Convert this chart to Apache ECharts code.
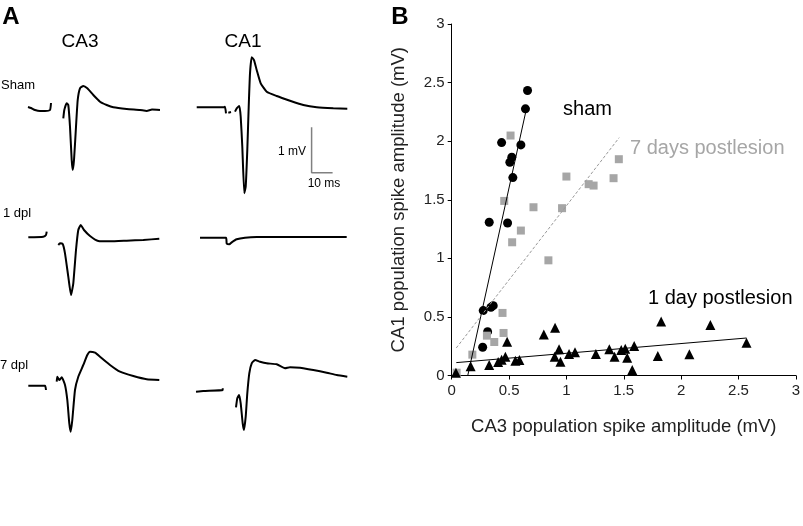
<!DOCTYPE html>
<html><head><meta charset="utf-8">
<script src="https://cdn.jsdelivr.net/npm/echarts@6/dist/echarts.min.js"></script>
<style>html,body{margin:0;padding:0;background:#fff}#c{width:803px;height:526px}</style>
</head><body><div id="c"></div>
<script>
// ---------- Panel B data: [CA3 amplitude (mV), CA1 amplitude (mV)] ----------
const shamPoints = [[0.661,2.432],[0.643,2.276],[0.435,1.988],[0.603,1.968],[0.524,1.863],[0.507,1.820],[0.533,1.689],
  [0.327,1.308],[0.487,1.302],[0.275,0.554],[0.362,0.596],[0.342,0.582],[0.313,0.374],[0.270,0.241]];
const dpl7Points = [[0.513,2.048],[1.457,1.846],[1.000,1.698],[1.194,1.633],[1.237,1.621],[1.411,1.684],[0.458,1.490],
  [0.713,1.436],[0.962,1.428],[0.603,1.237],[0.527,1.137],[0.843,0.983],[0.443,0.534],[0.452,0.363],[0.307,0.340],
  [0.371,0.286],[0.180,0.178],[0.043,0.024]];
const dpl1Points = [[0.037,0.024],[0.165,0.078],[0.327,0.090],[0.405,0.115],[0.435,0.135],[0.468,0.161],[0.555,0.126],
  [0.590,0.132],[0.483,0.289],[0.803,0.350],[0.901,0.408],[0.898,0.161],[0.936,0.224],[0.948,0.118],[1.023,0.184],
  [1.075,0.198],[1.257,0.184],[1.374,0.224],[1.420,0.161],[1.478,0.218],[1.513,0.229],[1.530,0.152],[1.591,0.252],
  [1.574,0.047],[1.797,0.167],[1.826,0.460],[2.072,0.181],[2.255,0.431],[2.570,0.280]];
const shamFit = [[0.14,0],[0.65,2.27]];
const dpl7Fit = [[0.04,0.235],[1.46,2.03]];
const dpl1Fit = [[0.04,0.11],[2.57,0.32]];
const axisTicks = [0, 0.5, 1, 1.5, 2, 2.5, 3];

// ---------- Panel A traces: [time (ms), voltage (mV)] ----------
const shamCA3Pre = [[0.95,0.066],[2.38,0.044],[4.29,0],[6.67,-0.022],[9.05,-0.022],[11.43,0],[11.9,0.154]];
const shamCA3 = [[17.76,-0.183],[18.24,0],[19.38,0.148],[20.14,0.110],[20.95,-0.368],[21.76,-1.101],[22.24,-1.322],
  [22.86,-1.101],[23.81,-0.368],[24.62,0.220],[25.71,0.478],[27.29,0.529],[29.19,0.478],[32.05,0.330],[35.24,0.183],
  [38.43,0.110],[41.57,0.059],[47.95,0.022],[54.29,0],[57.5,-0.02],[60,0.01],[63.81,0]];
const shamCA1Pre = [[1.29,0.015],[13.95,0.015],[14.76,0.029],[15.24,-0.117]];
const shamCA1Tick = [[16.33,-0.104],[17.62,-0.088]];
const shamCA1 = [[19.52,-0.081],[20.33,-0.007],[21.57,0.044],[22.24,-0.192],[23.0,-0.852],[23.95,-1.879],[24.62,-1.733],
  [25.38,-0.925],[26.05,0.029],[26.67,0.764],[27.48,1.117],[28.57,1.057],[29.86,0.837],[31.76,0.544],[34.62,0.359],
  [39.38,0.264],[45.71,0.161],[52.05,0.066],[58.43,0.015],[66.33,-0.007],[73.0,-0.015]];
const dpl1CA3Pre = [[1.10,-0.007],[8.24,0.007],[9.52,0.044],[9.86,0.117]];
const dpl1CA3 = [[15.38,-0.176],[16.19,-0.139],[17.48,-0.154],[18.57,-0.359],[20.14,-0.874],[21.43,-1.278],[22.52,-1.020],
  [23.81,-0.286],[24.90,0.154],[26.05,0.264],[27.62,0.154],[30.48,0.022],[34.43,-0.088],[40.0,-0.095],[47.95,-0.081],
  [55.86,-0.066],[63.48,-0.037]];
const dpl1CA1 = [[2.86,-0.015],[15.24,-0.015],[15.57,-0.143],[16.81,-0.161],[17.95,-0.117],[20.33,-0.051],[24.29,-0.015],
  [29.86,0],[45.71,0],[72.71,0]];
const dpl7CA3Pre = [[1.10,-0.015],[9.05,-0.015],[9.52,-0.110]];
const dpl7CA3 = [[14.62,0.073],[14.90,0.183],[15.86,0.110],[17.0,0.170],[18.57,0],[19.67,-0.330],[20.62,-0.844],
  [21.29,-1.029],[22.05,-0.771],[23.33,-0.110],[24.90,0.183],[27.29,0.441],[29.19,0.661],[30.48,0.733],[32.86,0.711],
  [35.24,0.623],[40.0,0.441],[44.76,0.293],[51.10,0.198],[57.48,0.126],[63.48,0.110]];
const dpl7CA1Pre = [[0.95,-0.148],[4.43,-0.132],[13.67,-0.110],[13.7,-0.073]];
const dpl7CA1 = [[20.0,-0.491],[20.62,-0.293],[21.43,-0.220],[22.24,-0.403],[23.19,-0.844],[23.81,-0.991],[24.62,-0.698],
  [25.38,-0.183],[26.33,0.258],[27.48,0.478],[29.05,0.551],[31.43,0.513],[34.62,0.478],[39.38,0.456],[43.33,0.368],
  [45.71,0.390],[50.48,0.381],[56.81,0.330],[63.19,0.271],[67.95,0.220],[73.0,0.183]];
const scaleBar = [[56,-0.425],[56,-1.425],[66,-1.425]];

const FONT = '"Liberation Sans", Arial, sans-serif';
const GRAY = '#a6a6a6';

// trace grids: 2.1 px per ms, 45.4 px per mV
const traceGrids = [
  {left:26, top:41.9}, {left:194, top:39.9},
  {left:26, top:168.9}, {left:194, top:168.9},
  {left:26, top:316.9}, {left:194, top:316.9}
];
const grids = [{left:451.7, top:24, width:345, height:351.5}];
const xAxes = [{
  gridIndex:0, type:'value', min:0, max:3, interval:0.5,
  axisLine:{show:true, lineStyle:{color:'#000', width:1}},
  axisTick:{show:true, length:4, lineStyle:{color:'#000'}},
  splitLine:{show:false},
  axisLabel:{color:'#222', fontSize:15, fontFamily:FONT, margin:8},
  name:'CA3 population spike amplitude (mV)', nameLocation:'middle', nameGap:42,
  nameTextStyle:{color:'#222', fontSize:18.5, fontFamily:FONT}
}];
const yAxes = [{
  gridIndex:0, type:'value', min:0, max:3, interval:0.5,
  axisLine:{show:true, lineStyle:{color:'#000', width:1}},
  axisTick:{show:true, length:4, lineStyle:{color:'#000'}},
  splitLine:{show:false},
  axisLabel:{color:'#222', fontSize:15, fontFamily:FONT, margin:7},
  name:'CA1 population spike amplitude (mV)', nameLocation:'middle', nameGap:43,
  nameTextStyle:{color:'#222', fontSize:18.5, fontFamily:FONT}
}];
traceGrids.forEach((g,i)=>{
  grids.push({left:g.left, top:g.top, width:157.5, height:181.6});
  xAxes.push({gridIndex:i+1, type:'value', min:0, max:75, show:false});
  yAxes.push({gridIndex:i+1, type:'value', min:-2.5, max:1.5, show:false});
});

function trace(data, idx, color, w){
  return {type:'line', data:data, xAxisIndex:idx, yAxisIndex:idx, showSymbol:false, symbol:'none',
    smooth:0.15, silent:true, clip:false,
    lineStyle:{color:color||'#000', width:w||2}};
}
const series = [
  trace(shamCA3Pre,1), trace(shamCA3,1),
  trace(shamCA1Pre,2), trace(shamCA1Tick,2), trace(shamCA1,2),
  trace(dpl1CA3Pre,3), trace(dpl1CA3,3),
  trace(dpl1CA1,4),
  trace(dpl7CA3Pre,5), trace(dpl7CA3,5),
  trace(dpl7CA1Pre,6), trace(dpl7CA1,6),
  {type:'line', data:scaleBar, xAxisIndex:2, yAxisIndex:2, showSymbol:false, symbol:'none', smooth:false,
   lineStyle:{color:'#808080', width:1.5}},
  // panel B
  {type:'scatter', data:shamPoints, symbol:'circle', symbolSize:9, itemStyle:{color:'#000', opacity:1}},
  {type:'scatter', data:dpl7Points, symbol:'rect', symbolSize:8, itemStyle:{color:GRAY, opacity:1}},
  {type:'scatter', data:dpl1Points, symbol:'triangle', symbolSize:10, itemStyle:{color:'#000', opacity:1}},
  {type:'line', data:shamFit, showSymbol:false, symbol:'none', lineStyle:{color:'#000', width:1}},
  {type:'line', data:dpl7Fit, showSymbol:false, symbol:'none', lineStyle:{color:'#999', width:1, type:[3,2]}},
  {type:'line', data:dpl1Fit, showSymbol:false, symbol:'none', lineStyle:{color:'#000', width:1}}
];

function txt(text, x, y, size, opts){
  return {type:'text', x:x, y:y, style:Object.assign({text:text, fontSize:size, fontFamily:FONT,
    fill:'#000', align:'center', verticalAlign:'middle'}, opts||{})};
}
const graphic = [
  txt('A', 11, 17, 24, {fontWeight:'bold'}),
  txt('B', 400, 17, 24, {fontWeight:'bold'}),
  txt('CA3', 80, 42, 19),
  txt('CA1', 243, 42, 19),
  txt('Sham', 1, 85, 13, {align:'left'}),
  txt('1 dpl', 3, 213, 13, {align:'left'}),
  txt('7 dpl', 0, 365, 13, {align:'left'}),
  txt('1 mV', 292, 152, 12),
  txt('10 ms', 324, 184, 12),
  txt('sham', 587.5, 109, 20),
  txt('7 days postlesion', 630, 148, 20, {align:'left', fill:GRAY}),
  txt('1 day postlesion', 648, 298, 20, {align:'left'})
];

const chart = echarts.init(document.getElementById('c'), null, {renderer:'canvas'});
chart.setOption({animation:false, backgroundColor:'#fff', grid:grids, xAxis:xAxes, yAxis:yAxes, series:series, graphic:graphic});
</script></body></html>
